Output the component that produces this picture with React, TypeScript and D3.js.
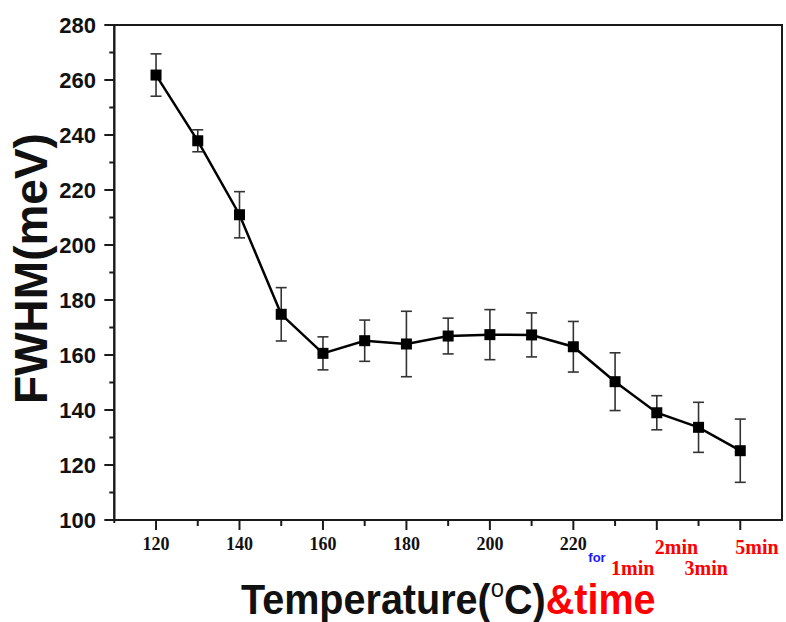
import React from "react";
import * as d3 from "d3";

// ---- data ----
const positions = [120, 130, 140, 150, 160, 170, 180, 190, 200, 210, 220, 230, 240, 250, 260];
const fwhm = [261.8, 237.9, 211.0, 174.8, 160.6, 165.2, 164.0, 166.9, 167.4, 167.3, 163.0, 150.3, 139.0, 133.7, 125.2];
const errs = [7.7, 4.0, 8.4, 9.7, 6.0, 7.5, 11.9, 6.5, 9.1, 8.0, 9.2, 10.5, 6.2, 9.1, 11.5];
const tempTicks = [120, 140, 160, 180, 200, 220];
const timeTickPos = [230, 240, 250, 260];
const timeTickLabels = ["1min", "2min", "3min", "5min"];
const yTicks = [100, 120, 140, 160, 180, 200, 220, 240, 260, 280];

// layout (not data)
const W = 786, H = 622;
const L = 114.3, R = 782, T = 25, B = 520;
const timeRow = [1, 0, 1, 0];
const timeDx = [-4, -2, -14, -5];

export default function App() {
  const x = d3.scaleLinear().domain([110, 270]).range([L, R]);
  const y = d3.scaleLinear().domain([100, 280]).range([B, T]);
  const pts = positions.map((p, i) => ({ x: p, y: fwhm[i], e: errs[i] }));
  const line = d3.line<any>().x((d) => x(d.x)).y((d) => y(d.y));
  const xMinor = d3.range(120, 261, 10);
  const yMinor = d3.range(110, 280, 20);
  const ms = 11;
  const cap = 5.5;
  return (
    <svg width={W} height={H} style={{ position: "absolute", left: 0, top: 0, background: "#fff" }}>
      <rect x={0} y={0} width={W} height={H} fill="#fff" />
      {/* frame */}
      <rect x={L} y={T} width={R - L} height={B - T} fill="none" stroke="#1a1a1a" strokeWidth={2} />
      <line x1={L} x2={L} y1={T} y2={B + 3} stroke="#1a1a1a" strokeWidth={2} />
      {/* y ticks */}
      {yTicks.map((t) => (
        <g key={"y" + t}>
          <line x1={L - 10} x2={L} y1={y(t)} y2={y(t)} stroke="#1a1a1a" strokeWidth={2} />
          <text x={96} y={y(t)} dy="0.36em" textAnchor="end" fontFamily="'Liberation Sans', Arial, sans-serif"
            fontWeight="bold" fontSize={22} fill="#111">{t}</text>
        </g>
      ))}
      {yMinor.map((t) => (
        <line key={"ym" + t} x1={L - 5} x2={L} y1={y(t)} y2={y(t)} stroke="#1a1a1a" strokeWidth={2} />
      ))}
      {/* x ticks */}
      {xMinor.map((t) => {
        const major = (t - 120) % 20 === 0;
        return <line key={"x" + t} x1={x(t)} x2={x(t)} y1={B} y2={B + (major ? 10 : 6)} stroke="#1a1a1a" strokeWidth={2} />;
      })}
      {tempTicks.map((t) => (
        <text key={"xl" + t} x={x(t)} y={550} textAnchor="middle" fontFamily="'Liberation Serif', 'Times New Roman', serif"
          fontWeight="bold" fontSize={18} fill="#111">{t}</text>
      ))}
      <text x={597} y={562} textAnchor="middle" fontFamily="'Liberation Sans', Arial, sans-serif" fontWeight="bold"
        fontSize={13} fill="#1a1aff">for</text>
      {timeTickPos.map((t, i) => (
        <text key={"tl" + t} x={x(t) + timeDx[i]} y={timeRow[i] ? 575 : 554} textAnchor="start"
          fontFamily="'Liberation Serif', 'Times New Roman', serif" fontWeight="bold" fontSize={20} fill="#ff0000">
          {timeTickLabels[i]}
        </text>
      ))}
      {/* axis titles */}
      <text transform={`translate(47,268.5) rotate(-90)`} textAnchor="middle" fontFamily="'Liberation Sans', Arial, sans-serif"
        fontWeight="bold" fontSize={46} fill="#111">FWHM(meV)</text>
      <g transform="translate(241,614) scale(0.92,0.97)">
        <text x={0} y={0} fontFamily="'Liberation Sans', Arial, sans-serif" fontWeight="bold" fontSize={43} fill="#111">
          Temperature(
          <tspan dy={-18} fontSize={26} fontWeight="normal">o</tspan>
          <tspan dy={18}>C)</tspan>
          <tspan fill="#ff0000">&amp;time</tspan>
        </text>
      </g>
      {/* line */}
      <path d={line(pts) || ""} fill="none" stroke="#000" strokeWidth={2.5} />
      {/* error bars */}
      {pts.map((p, i) => (
        <g key={"e" + i} stroke="#333" strokeWidth={1.6}>
          <line x1={x(p.x)} x2={x(p.x)} y1={y(p.y + p.e)} y2={y(p.y - p.e)} />
          <line x1={x(p.x) - cap} x2={x(p.x) + cap} y1={y(p.y + p.e)} y2={y(p.y + p.e)} />
          <line x1={x(p.x) - cap} x2={x(p.x) + cap} y1={y(p.y - p.e)} y2={y(p.y - p.e)} />
        </g>
      ))}
      {/* markers */}
      {pts.map((p, i) => (
        <rect key={"m" + i} x={x(p.x) - ms / 2} y={y(p.y) - ms / 2} width={ms} height={ms} fill="#000" />
      ))}
    </svg>
  );
}
